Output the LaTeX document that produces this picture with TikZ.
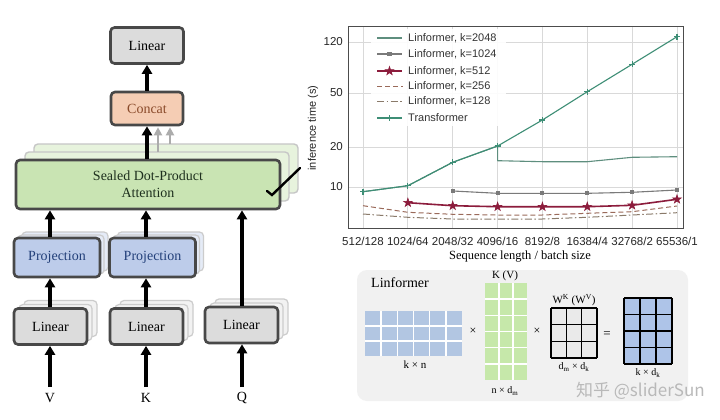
\documentclass[tikz,border=0pt]{standalone}
\usepackage{fontspec}
\setmainfont{Liberation Serif}
\setsansfont{Liberation Sans}
\newfontfamily\cjkfont{Noto Sans CJK SC}
\usetikzlibrary{arrows.meta,shadows,calc,plotmarks,backgrounds}

\definecolor{boxedge}{HTML}{484848}
\definecolor{linfill}{HTML}{DCDCDC}
\definecolor{concatfill}{HTML}{F5CDB4}
\definecolor{concattext}{HTML}{8A4A2A}
\definecolor{attfill}{HTML}{C9E4B3}
\definecolor{atttext}{HTML}{1E301E}
\definecolor{projfill}{HTML}{BDCCEA}
\definecolor{projtext}{HTML}{23407A}
\definecolor{transc}{HTML}{3E8E76}
\definecolor{k2048c}{HTML}{5E8E7E}
\definecolor{k1024c}{HTML}{7A7A7A}
\definecolor{k512c}{HTML}{8C1C3C}
\definecolor{k256c}{HTML}{9A6A5A}
\definecolor{k128c}{HTML}{8A7A6A}
\definecolor{panelbg}{HTML}{F1F1F1}
\definecolor{mblue}{HTML}{B2C6E2}
\definecolor{mgreen}{HTML}{C6E8AA}
\definecolor{mgray}{HTML}{EAEAEA}
\definecolor{mblue2}{HTML}{AEC4E8}

\pgfdeclareplotmark{fstar}{%
 \pgfpathmoveto{\pgfqpointpolar{90}{\pgfplotmarksize}}%
 \pgfpathlineto{\pgfqpointpolar{234}{\pgfplotmarksize}}%
 \pgfpathlineto{\pgfqpointpolar{18}{\pgfplotmarksize}}%
 \pgfpathlineto{\pgfqpointpolar{162}{\pgfplotmarksize}}%
 \pgfpathlineto{\pgfqpointpolar{306}{\pgfplotmarksize}}%
 \pgfpathclose
 \pgfusepathqfillstroke}

\tikzset{
 blk/.style={rounded corners=4pt, draw=boxedge, line width=2.6pt,
   font=\fontsize{14}{17}\selectfont, inner sep=0pt, align=center},
 linbox/.style={blk, fill=linfill, minimum width=73pt, minimum height=36pt},
 linshadow/.style={double copy shadow={shadow xshift=5pt, shadow yshift=4pt,
   fill=gray!10, draw=gray!40, line width=1.2pt}},
 projbox/.style={blk, fill=projfill, text=projtext, minimum width=86pt, minimum height=39pt,
   double copy shadow={shadow xshift=4pt, shadow yshift=3pt,
   fill=projfill!40, draw=gray!40, line width=1.2pt}},
 attbox/.style={blk, fill=attfill, text=atttext, minimum width=264pt, minimum height=49pt,
   double copy shadow={shadow xshift=9pt, shadow yshift=8pt,
   fill=attfill!45, draw=gray!45, line width=1.4pt}},
 concatbox/.style={blk, fill=concatfill, text=concattext, minimum width=72pt, minimum height=33pt},
 arr/.style={line width=3.2pt, -{Triangle[length=9pt,width=10pt]}},
 garr/.style={line width=2.4pt, draw=gray!65, -{Triangle[length=8pt,width=8pt,fill=gray!65]}},
 ghost/.style={draw=gray!45, line width=0.9pt},
 inlbl/.style={font=\fontsize{14}{16}\selectfont},
 gridl/.style={draw=gray!30, line width=0.8pt},
 ticklbl/.style={font=\sffamily\fontsize{11.5}{13}\selectfont, text=black!85, inner sep=0pt},
 leglbl/.style={font=\sffamily\fontsize{11}{13}\selectfont, text=black!80, anchor=west, inner sep=0pt},
 transl/.style={draw=transc, line width=1.1pt, mark=+, mark size=3pt},
 k2048l/.style={draw=k2048c, line width=1.1pt},
 k1024l/.style={draw=k1024c, line width=1.1pt, mark=square*, mark size=1.5pt, mark options={fill=k1024c}},
 k512l/.style={draw=k512c, line width=1.6pt, mark=fstar, mark size=4.5pt, mark options={fill=k512c, line width=0.6pt}},
 k256l/.style={draw=k256c, line width=1pt, dash pattern=on 5pt off 3pt},
 k128l/.style={draw=k128c, line width=1pt, dash pattern=on 7pt off 2.5pt on 1.5pt off 2.5pt},
 mlbl/.style={font=\fontsize{11}{12}\selectfont, inner sep=0pt},
 slbl/.style={font=\fontsize{10}{11}\selectfont, inner sep=0pt},
}

\begin{document}
\begin{tikzpicture}[x=1pt,y=-1pt]
\useasboundingbox (0,0) rectangle (720,420);
\fill[white] (0,0) rectangle (720,420);

% ================= LEFT: multi-head attention =================
\node[linbox] (lintop) at (147,45.5) {Linear};
\node[concatbox] (concat) at (147,108.5) {Concat};
\node[attbox] (att) at (148,184.5) {Sealed Dot-Product\\Attention};
\node[projbox] (proj1) at (57,257.5) {Projection};
\node[projbox] (proj2) at (152.5,257.5) {Projection};
\node[linbox,linshadow] (lin1) at (50.5,326.5) {Linear};
\node[linbox,linshadow] (lin2) at (146.5,326.5) {Linear};
\node[linbox,linshadow] (lin3) at (241.5,325) {Linear};

\node[inlbl] (vlab) at (50,398) {V};
\node[inlbl] (klab) at (146,398) {K};
\node[inlbl] (qlab) at (242,398) {Q};
\coordinate (vin) at (50,387);
\coordinate (kin) at (146,387);
\coordinate (qin) at (242,387);

% ghost (shadow) connectors
\begin{scope}[on background layer]
 \foreach \xx/\lo/\hi in {59/lin1/proj1, 155/lin2/proj2, 59/proj1/att, 155/proj2/att, 251/lin3/att}{
   \draw[ghost] (\lo.north -| \xx,0) -- (\hi.south -| \xx,0);
   \draw[ghost] ([xshift=4pt]\lo.north -| \xx,0) -- ([xshift=4pt]\hi.south -| \xx,0);
 }
 \draw[ghost] (vin) -- ([xshift=9pt]lin1.south -| vin);
 \draw[ghost] (vin) -- ([xshift=14pt,yshift=3pt]lin1.south -| vin);
 \draw[ghost] (kin) -- ([xshift=9pt]lin2.south -| kin);
 \draw[ghost] (kin) -- ([xshift=14pt,yshift=3pt]lin2.south -| kin);
 \draw[ghost] (qin) -- ([xshift=9pt]lin3.south -| qin);
 \draw[ghost] (qin) -- ([xshift=14pt,yshift=3pt]lin3.south -| qin);
\end{scope}

% main connectors
\draw[arr] (vin) -- (lin1.south -| vin);
\draw[arr] (kin) -- (lin2.south -| kin);
\draw[arr] (qin) -- (lin3.south -| qin);
\draw[arr] (lin1.north -| vin) -- (proj1.south -| vin);
\draw[arr] (lin2.north -| kin) -- (proj2.south -| kin);
\draw[arr] (proj1.north -| vin) -- (att.south -| vin);
\draw[arr] (proj2.north -| kin) -- (att.south -| kin);
\draw[arr] (lin3.north -| qin) -- (att.south -| qin);
\draw[arr] (att.north -| concat) -- (concat.south);
\draw[arr] (concat.north) -- (lintop.south);
\coordinate (g1) at (158,152);
\coordinate (g2) at (170,144);
\draw[garr] (g1) -- ([yshift=-1pt]concat.south -| g1);
\draw[garr] (g2) -- ([yshift=-1pt]concat.south -| g2);

% slash on attention
\coordinate (s1) at (267,191);
\coordinate (s2) at (272,195);
\coordinate (s3) at (300,168);
\draw[line width=2.4pt, line cap=round] (s1) -- (s2) -- (s3);

% ================= RIGHT TOP: chart =================
\foreach \i in {0,...,7}{
  \pgfmathsetmacro{\xx}{363+44.857*\i}
  \draw[gridl] (\xx,27) -- (\xx,228);
}
\foreach \yy in {42,93,147,187}{
  \draw[gridl] (348,\yy) -- (683,\yy);
}

% data
\draw[k128l] plot coordinates {(363,214) (407.9,217.3) (452.7,219) (497.6,219) (542.4,219) (587.3,217.3) (632.1,215) (677,212.7)};
\draw[k256l] plot coordinates {(363,205.7) (407.9,212.3) (452.7,214.3) (497.6,215) (542.4,215) (587.3,213.3) (632.1,211.7) (677,206)};
\draw[k512l] plot coordinates {(407.9,202.7) (452.7,205.7) (497.6,206.7) (542.4,206.7) (587.3,206.7) (632.1,205.3) (677,199.3)};
\draw[k1024l] plot coordinates {(452.7,191) (497.6,193.3) (542.4,193.3) (587.3,193.3) (632.1,192.3) (677,190)};
\draw[k2048l] plot coordinates {(363,191.7) (407.9,185.7) (452.7,162.3) (497.6,146) (497.6,160.7) (542.4,161.7) (587.3,161.7) (632.1,157.3) (677,156.7)};
\draw[transl] plot coordinates {(363,191.7) (407.9,185.7) (452.7,162.3) (497.6,146) (542.4,120) (587.3,91.7) (632.1,64.3) (677,36.7)};

% frame
\draw[draw=black!70, line width=1pt] (348,27) rectangle (683,228);

% legend
\fill[white, opacity=0.9] (371,29) rectangle (506,126);
\draw[k2048l] (377,38) -- (402,38);
\draw[k1024l, mark indices={2}] plot coordinates {(377,54) (389.5,54) (402,54)};
\draw[k512l, mark indices={2}] plot coordinates {(377,71) (389.5,71) (402,71)};
\draw[k256l] (377,86) -- (403,86);
\draw[k128l] (377,101) -- (403,101);
\draw[transl, mark indices={2}] plot coordinates {(377,118) (389.5,118) (402,118)};
\node[leglbl] (l1) at (408,38) {Linformer, k=2048};
\node[leglbl] (l2) at (408,54) {Linformer, k=1024};
\node[leglbl] (l3) at (408,71) {Linformer, k=512};
\node[leglbl] (l4) at (408,86) {Linformer, k=256};
\node[leglbl] (l5) at (408,101) {Linformer, k=128};
\node[leglbl] (l6) at (408,118) {Transformer};

% ticks
\node[ticklbl, anchor=east] (y120) at (343,42) {120};
\node[ticklbl, anchor=east] (y50) at (343,93) {50};
\node[ticklbl, anchor=east] (y20) at (343,147) {20};
\node[ticklbl, anchor=east] (y10) at (343,187) {10};
\foreach \lab [count=\i from 0] in {512/128,1024/64,2048/32,4096/16,8192/8,16384/4,32768/2,65536/1}{
  \pgfmathsetmacro{\xx}{363+44.857*\i}
  \node[ticklbl] (xt\i) at (\xx,241) {\lab};
}
\node[font=\fontsize{12.5}{14}\selectfont, inner sep=0pt] (xlab) at (520,257) {Sequence length / batch size};
\node[font=\sffamily\fontsize{11}{13}\selectfont, rotate=90, inner sep=0pt, text=black!85] (ylab) at (313,128) {inference time (s)};

% ================= RIGHT BOTTOM: Linformer panel =================
\fill[panelbg, rounded corners=10pt] (357,270) rectangle (688,401);
\node[font=\fontsize{14}{16}\selectfont, inner sep=0pt] (ltitle) at (400,283) {Linformer};

% matrix 1 (k x n)
\fill[mblue] (365,311) rectangle (462,356);
\foreach \k in {1,...,5}{\draw[white, line width=1.6pt] ({365+97*\k/6},311) -- ++(0,45);}
\foreach \k in {1,2}{\draw[white, line width=1.6pt] (365,{311+15*\k}) -- ++(97,0);}
\node[mlbl] (m1lab) at (415,365) {k × n};
\node[font=\fontsize{12}{13}\selectfont, inner sep=0pt] (times1) at (473,331) {×};

% matrix 2 K(V)
\fill[mgreen] (485,283) rectangle (527,380);
\foreach \k in {1,2}{\draw[white, line width=1.6pt] ({485+14*\k},283) -- ++(0,97);}
\foreach \k in {1,...,5}{\draw[white, line width=1.6pt] (485,{283+97*\k/6}) -- ++(42,0);}
\node[mlbl] (m2top) at (505,276) {K (V)};
\node[slbl] (m2lab) at (505,391) {n × d\textsubscript{m}};
\node[font=\fontsize{12}{13}\selectfont, inner sep=0pt] (times2) at (537,331) {×};

% matrix 3 W
\fill[mgray] (551,308) rectangle (597,358);
\foreach \k in {0,...,3}{\draw[black, line width=1.2pt] ({551+46*\k/3},308) -- ++(0,50);}
\foreach \k in {0,...,3}{\draw[black, line width=1.2pt] (551,{308+50*\k/3}) -- ++(46,0);}
\node[mlbl] (m3top) at (574,300) {W\textsuperscript{K} (W\textsuperscript{V})};
\node[slbl] (m3lab) at (574,367) {d\textsubscript{m} × d\textsubscript{k}};
\node[font=\fontsize{13}{14}\selectfont, inner sep=0pt] (eqs) at (607,335) {=};

% matrix 4 result
\fill[mblue2] (624,298) rectangle (672,364);
\foreach \k in {0,...,3}{\draw[black, line width=1.2pt] ({624+16*\k},298) -- ++(0,66);}
\foreach \k in {0,...,4}{\draw[black, line width=1.2pt] (624,{298+16.5*\k}) -- ++(48,0);}
\node[slbl] (m4lab) at (648,373) {k × d\textsubscript{k}};

% watermark
\node[anchor=east, inner sep=0pt, text=gray!55, font=\cjkfont\fontsize{17}{19}\selectfont] (wm) at (705,391) {知乎 @sliderSun};

\end{tikzpicture}
\end{document}
